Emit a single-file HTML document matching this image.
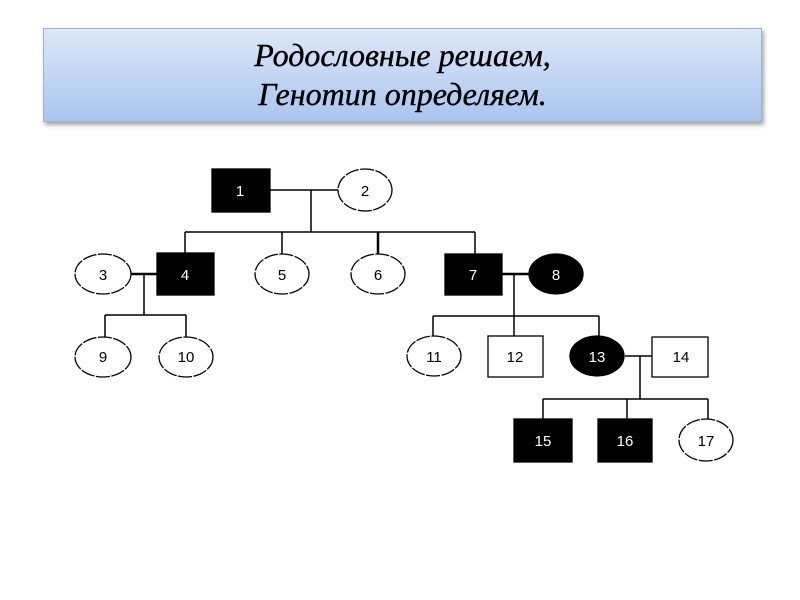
<!DOCTYPE html>
<html><head><meta charset="utf-8"><style>
html,body{margin:0;padding:0;background:#fff;}
.t{position:absolute;left:43px;top:28px;width:719px;height:94px;background:linear-gradient(#dde8f8,#a9c5ef);border:1px solid #9ab3d8;box-shadow:2px 3px 4px rgba(0,0,0,0.35);box-sizing:border-box;text-align:center;font-family:"Liberation Serif",serif;font-style:italic;font-size:32px;line-height:39px;padding-top:7px;color:#000;-webkit-text-stroke:0.4px #000;}
</style></head><body>
<div class="t">Родословные решаем,<br>Генотип определяем.</div>
<svg width="800" height="600" style="position:absolute;left:0;top:0" font-family="Liberation Sans, sans-serif" font-size="15">
<g stroke="#000" stroke-width="1.5" fill="none">
<line x1="270" y1="190" x2="338" y2="190"/>
<line x1="311" y1="190" x2="311" y2="232"/>
<line x1="185" y1="232" x2="475" y2="232"/>
<line x1="185" y1="232" x2="185" y2="253"/>
<line x1="282" y1="232" x2="282" y2="254"/>
<line x1="378" y1="232" x2="378" y2="254" stroke-width="2.5"/>
<line x1="475" y1="232" x2="475" y2="254"/>
<line x1="131" y1="274" x2="157" y2="274" stroke-width="2.5"/>
<line x1="144" y1="274" x2="144" y2="315"/>
<line x1="105" y1="315" x2="186" y2="315"/>
<line x1="105" y1="315" x2="105" y2="337"/>
<line x1="186" y1="315" x2="186" y2="337"/>
<line x1="502" y1="274" x2="529" y2="274" stroke-width="2.5"/>
<line x1="514" y1="274" x2="514" y2="316"/>
<line x1="433" y1="316" x2="599" y2="316"/>
<line x1="433" y1="316" x2="433" y2="336"/>
<line x1="514" y1="316" x2="514" y2="336"/>
<line x1="599" y1="316" x2="599" y2="336"/>
<line x1="625" y1="356" x2="652" y2="356"/>
<line x1="640" y1="356" x2="640" y2="399"/>
<line x1="543" y1="399" x2="708" y2="399"/>
<line x1="543" y1="399" x2="543" y2="419"/>
<line x1="627" y1="399" x2="627" y2="419"/>
<line x1="708" y1="399" x2="708" y2="420"/>
</g>
<g stroke="#000" stroke-width="1.3">
<rect x="212" y="169" width="58" height="43" fill="#000"/>
<ellipse cx="365" cy="190" rx="27" ry="21" fill="#fff" stroke-dasharray="14 1.5"/>
<ellipse cx="103" cy="274" rx="28" ry="20" fill="#fff" stroke-dasharray="14 1.5"/>
<rect x="157" y="253" width="57" height="42" fill="#000"/>
<ellipse cx="282" cy="274" rx="27" ry="20" fill="#fff" stroke-dasharray="14 1.5"/>
<ellipse cx="378" cy="274" rx="27" ry="20" fill="#fff" stroke-dasharray="14 1.5"/>
<rect x="445" y="254" width="57" height="41" fill="#000"/>
<ellipse cx="556" cy="274" rx="27" ry="20" fill="#000"/>
<ellipse cx="103" cy="357" rx="28" ry="20" fill="#fff" stroke-dasharray="14 1.5"/>
<ellipse cx="186" cy="357" rx="27" ry="20" fill="#fff" stroke-dasharray="14 1.5"/>
<ellipse cx="434" cy="356" rx="27" ry="20" fill="#fff" stroke-dasharray="14 1.5"/>
<rect x="488" y="336" width="55" height="41" fill="#fff"/>
<ellipse cx="597" cy="356" rx="27" ry="20" fill="#000"/>
<rect x="652" y="337" width="56" height="40" fill="#fff"/>
<rect x="514" y="419" width="58" height="43" fill="#000"/>
<rect x="598" y="419" width="54" height="43" fill="#000"/>
<ellipse cx="706" cy="440" rx="27" ry="21" fill="#fff" stroke-dasharray="14 1.5"/>
</g>
<g text-anchor="middle">
<text x="240" y="196" fill="#fff">1</text>
<text x="365" y="196">2</text>
<text x="103" y="280">3</text>
<text x="185" y="280" fill="#fff">4</text>
<text x="282" y="280">5</text>
<text x="378" y="280">6</text>
<text x="473" y="280" fill="#fff">7</text>
<text x="556" y="280" fill="#fff">8</text>
<text x="103" y="362">9</text>
<text x="186" y="362">10</text>
<text x="434" y="362">11</text>
<text x="515" y="362">12</text>
<text x="597" y="362" fill="#fff">13</text>
<text x="681" y="362">14</text>
<text x="543" y="446" fill="#fff">15</text>
<text x="625" y="446" fill="#fff">16</text>
<text x="706" y="446">17</text>
</g>
</svg>
</body></html>
